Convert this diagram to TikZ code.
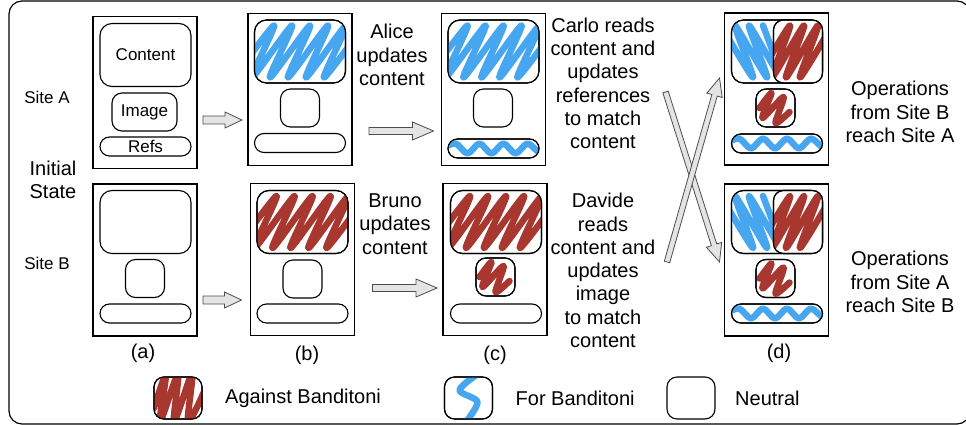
\documentclass[tikz,border=0pt]{standalone}
\usepackage{fontspec}
\setmainfont{Liberation Sans}
\usepackage{tikz}
\usetikzlibrary{calc, positioning}

\definecolor{AgainstRed}{HTML}{A8372F}
\definecolor{ForBlue}{HTML}{47A6F0}
\definecolor{ArrowFill}{HTML}{E4E4E4}
\definecolor{ArrowEdge}{HTML}{4D4D4D}

% scribble clipped into a rounded box, border drawn again on top
\newcommand{\scribble}[4][12pt]{%
  \begin{scope}
    \clip[rounded corners=#1] (#2.south west) rectangle (#2.north east);
    \draw[scrib, #3, shift={(#2.center)}] plot[smooth, tension=0.5] coordinates {#4};
  \end{scope}
  \draw[line width=1.1pt, rounded corners=#1] (#2.south west) rectangle (#2.north east);
}
\newcommand{\contentzig}[2]{\scribble[12pt]{#1}{#2}{(-66,26) (-26,-26) (-48,26) (-8,-26) (-30,26) (10,-26) (-12,26) (28,-26) (6,26) (46,-26) (24,26) (64,-26)}}
\newcommand{\imagezig}[1]{\scribble[10pt]{#1}{AgainstRed}{(-16,0) (-4,-15) (-13,10) (8,-11) (0,15) (14,4)}}
\newcommand{\refwave}[1]{\scribble[9.5pt]{#1}{ForBlue}{(-52,0) (-38,-5) (-26,5) (-14,-5) (-2,5) (10,-5) (22,5) (34,-5) (46,4) (54,0)}}
\newcommand{\leftzig}[1]{\scribble[12pt]{#1}{ForBlue}{(-56,-26) (-24,26) (-42,-26) (-10,26) (-28,-26) (4,26) (-14,-26)}}
\newcommand{\rightzig}[1]{\scribble[10pt]{#1}{AgainstRed}{(-40,26) (-8,-26) (-26,26) (6,-26) (-12,26) (20,-26) (2,26) (34,-26)}}

% block arrow: from, to, shaft half width, head half width, head length
\newcommand{\blockarr}[5]{%
  \draw[fatarrow] let \p1=(#1), \p2=(#2), \n1={atan2(\y2-\y1,\x2-\x1)}, \n2={veclen(\x2-\x1,\y2-\y1)} in
    ($(\p1)+(\n1+90:#3pt)$) -- ($(\p1)+(\n1:\n2-#5pt)+(\n1+90:#3pt)$) -- ($(\p1)+(\n1:\n2-#5pt)+(\n1+90:#4pt)$)
    -- (\p2) -- ($(\p1)+(\n1:\n2-#5pt)+(\n1-90:#4pt)$) -- ($(\p1)+(\n1:\n2-#5pt)+(\n1-90:#3pt)$)
    -- ($(\p1)+(\n1-90:#3pt)$) -- cycle;
}

\begin{document}
\begin{tikzpicture}[x=1pt, y=-1pt,
    every node/.style={font=\fontsize{20}{23.3}\selectfont, inner sep=0pt},
    small/.style={font=\fontsize{17}{20}\selectfont},
    panel/.style={draw, line width=1.1pt, outer sep=0pt, minimum width=104pt, minimum height=152pt},
    cbox/.style={draw, line width=1.1pt, outer sep=0pt, rounded corners=12pt, minimum width=91pt, minimum height=63pt},
    ibox/.style={draw, line width=1.1pt, outer sep=0pt, rounded corners=10pt, minimum width=39pt, minimum height=38pt},
    rbox/.style={draw, line width=1.1pt, outer sep=0pt, rounded corners=9.5pt, minimum width=91pt, minimum height=19pt},
    hbox/.style={cbox, fill=white, rounded corners=10pt, minimum width=49pt},
    scrib/.style={line width=6.5pt, line cap=round, line join=round},
    fatarrow/.style={draw=ArrowEdge, fill=ArrowFill, line width=0.8pt, line join=miter},
    stage/.style={align=center}]
  \useasboundingbox (0,0) rectangle (966,425);
  \draw[line width=1.2pt, rounded corners=13pt] (9,1) rectangle (970,424);

  % (a) initial state
  \node[panel] (a1) at (145,92.5) {};
  \node[cbox, small] (ca1) at (145.5,55) {Content};
  \node[ibox, small, minimum width=65pt] (ia1) at (144.5,112) {Image};
  \node[rbox, small] (ra1) at (145.5,146.5) {Refs};
  \node[panel] (a2) at (145,260) {};
  \node[cbox] (ca2) at (145.5,222) {};
  \node[ibox] (ia2) at (145,278.5) {};
  \node[rbox] (ra2) at (145.5,313.5) {};

  % (b)
  \node[panel] (b1) at (300,89.5) {};
  \node[cbox] (cb1) at (300,51.5) {};
  \node[ibox] (ib1) at (300,108) {};
  \node[rbox] (rb1) at (300,143) {};
  \contentzig{cb1}{ForBlue}
  \node[panel] (b2) at (302.5,259.5) {};
  \node[cbox] (cb2) at (302.5,222) {};
  \node[ibox] (ib2) at (302.5,279) {};
  \node[rbox] (rb2) at (302.5,313.5) {};
  \contentzig{cb2}{AgainstRed}

  % (c)
  \node[panel] (c1) at (493.5,89.5) {};
  \node[cbox] (cc1) at (493.5,51.5) {};
  \node[ibox] (ic1) at (493,108) {};
  \node[rbox] (rc1) at (493.5,148.5) {};
  \contentzig{cc1}{ForBlue}
  \refwave{rc1}
  \node[panel] (c2) at (495,259.5) {};
  \node[cbox] (cc2) at (496,222) {};
  \node[ibox] (ic2) at (495.5,277) {};
  \node[rbox] (rc2) at (496,313.5) {};
  \contentzig{cc2}{AgainstRed}
  \imagezig{ic2}

  % (d)
  \node[panel] (d1) at (776.5,89) {};
  \node[cbox] (cd1) at (777,51.5) {};
  \leftzig{cd1}
  \node[hbox] (hd1) at (798,51.5) {};
  \rightzig{hd1}
  \node[ibox] (id1) at (775.5,108) {};
  \imagezig{id1}
  \node[rbox] (rd1) at (777,143.5) {};
  \refwave{rd1}
  \node[panel] (d2) at (776.5,260) {};
  \node[cbox] (cd2) at (777,222) {};
  \leftzig{cd2}
  \node[hbox] (hd2) at (798,222) {};
  \rightzig{hd2}
  \node[ibox] (id2) at (775.5,278.5) {};
  \imagezig{id2}
  \node[rbox] (rd2) at (777,313.5) {};
  \refwave{rd2}

  % labels
  \node[small] (siteA) at (47,97) {Site A};
  \node[stage] (init) at (53,180) {Initial\\State};
  \node[small] (siteB) at (47,263) {Site B};
  \node (la) at (143,353) {(a)};
  \node (lb) at (307,355) {(b)};
  \node (lc) at (495,355) {(c)};
  \node (ld) at (779,353) {(d)};
  \node[stage] (alice) at (392,55) {Alice\\updates\\content};
  \node[stage] (bruno) at (395,224) {Bruno\\updates\\content};
  \node[stage] (carlo) at (603,83.5) {Carlo reads\\content and\\updates\\references\\to match\\content};
  \node[stage] (davide) at (603,270.5) {Davide\\reads\\content and\\updates\\image\\to match\\content};
  \node[stage] (opsA) at (900,112) {Operations\\from Site B\\reach Site A};
  \node[stage] (opsB) at (900,282) {Operations\\from Site A\\reach Site B};

  % arrows
  \blockarr{$(a1.east)+(6,27.5)$}{$(b1.west)+(-6,30.5)$}{4}{8}{17}
  \blockarr{$(a2.east)+(6,40)$}{$(b2.west)+(-9,40.5)$}{4}{8}{17}
  \blockarr{$(b1.east)+(17,41.5)$}{$(c1.west)+(-8,41.5)$}{3.5}{9}{21}
  \blockarr{$(b2.east)+(18,28.5)$}{$(c2.west)+(-6,28.5)$}{3.5}{9}{21}
  \blockarr{$(c1.east)+(120,2.5)$}{$(d2.west)+(-5,2)$}{2.8}{8}{18}
  \blockarr{$(c2.east)+(120,2.5)$}{$(d1.west)+(-5,-11)$}{2.8}{8}{18}

  % legend
  \node[ibox, minimum width=48pt, minimum height=42pt] (lgred) at (178,398) {};
  \scribble[10pt]{lgred}{AgainstRed}{(-24,10) (-12,-24) (-18,24) (0,-24) (-4,24) (14,-24) (10,24) (26,-6)}
  \node[right=23pt of lgred] (lgredtxt) {Against Banditoni};
  \node[ibox, minimum width=48pt, minimum height=42pt] (lgblue) at (468.5,398) {};
  \scribble[10pt]{lgblue}{ForBlue}{(12,-26) (-9,-8) (9,4) (-4,26)}
  \node[right=23pt of lgblue] (lgbluetxt) {For Banditoni};
  \node[ibox, minimum width=48pt, minimum height=42pt] (lgneutral) at (691,398) {};
  \node[right=20pt of lgneutral] (lgneutraltxt) {Neutral};
\end{tikzpicture}
\end{document}
